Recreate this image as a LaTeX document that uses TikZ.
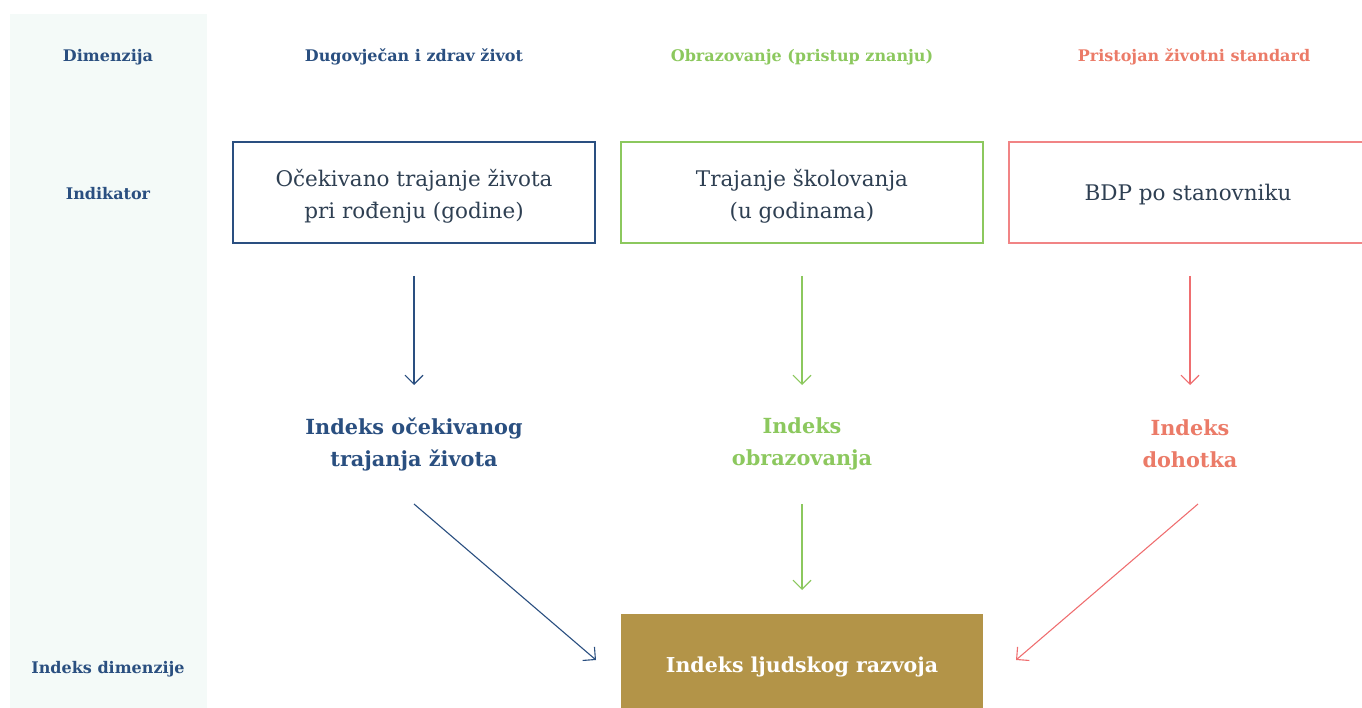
\documentclass[tikz,border=0pt]{standalone}
\usepackage{fontspec}
\setmainfont{DejaVu Serif}
\usetikzlibrary{arrows.meta}
\definecolor{navy}{HTML}{2A4F80}
\definecolor{grn}{HTML}{8CC85E}
\definecolor{salm}{HTML}{EB7B68}
\definecolor{redl}{HTML}{EF6E70}
\definecolor{gold}{HTML}{B39448}
\definecolor{bgc}{HTML}{F4FAF8}
\definecolor{txt}{HTML}{2E3F52}
\tikzset{
  lbl/.style={font=\fontsize{16}{18}\selectfont\bfseries, text=navy},
  hdr/.style={font=\fontsize{16}{18}\selectfont\bfseries},
  indbox/.style={draw, line width=1.3pt, minimum width=362pt, minimum height=101pt, inner sep=0pt},
  boxtxt/.style={text=txt, align=center, font=\fontsize{21.5}{32}\selectfont},
  idx/.style={align=center, font=\fontsize{20.8}{32}\selectfont\bfseries},
  arr/.style={line width=1.1pt, -{Straight Barb[length=9pt,width=18pt,line width=1.1pt]}}
}
\begin{document}
\begin{tikzpicture}[x=1pt,y=-1pt]
\useasboundingbox (0,0) rectangle (1362,708);
\fill[bgc] (10,14) rectangle (207,708);
\node[lbl] (ldim) at (108,57) {Dimenzija};
\node[lbl] (lind) at (108,194) {Indikator};
\node[lbl] (lidx) at (108,669) {Indeks dimenzije};
\node[hdr, text=navy] (h1) at (414,57) {Dugovječan i zdrav život};
\node[hdr, text=grn] (h2) at (802,57) {Obrazovanje (pristup znanju)};
\node[hdr, text=salm] (h3) at (1194,57) {Pristojan životni standard};
\node[indbox, draw=navy] (b1) at (414,192.5) {};
\node[indbox, draw=grn] (b2) at (802,192.5) {};
\begin{scope}
\clip (0,0) rectangle (1362,708);
\node[indbox, draw=redl!85!white] (b3) at (1190,192.5) {};
\end{scope}
\node[boxtxt] (b1t) at (414,196) {Očekivano trajanje života\\pri rođenju (godine)};
\node[boxtxt] (b2t) at (802,196) {Trajanje školovanja\\(u godinama)};
\node[boxtxt] (b3t) at (1188,195) {BDP po stanovniku};
\coordinate (a1s) at (414,276); \coordinate (a1e) at (414,385);
\coordinate (a2s) at (802,276); \coordinate (a2e) at (802,385);
\coordinate (a3s) at (1190,276); \coordinate (a3e) at (1190,385);
\draw[arr, navy] (a1s) -- (a1e);
\draw[arr, grn] (a2s) -- (a2e);
\draw[arr, redl] (a3s) -- (a3e);
\node[idx, text=navy] (i1) at (414,444) {Indeks očekivanog\\trajanja života};
\node[idx, text=grn] (i2) at (802,444) {Indeks\\obrazovanja};
\node[idx, text=salm] (i3) at (1190,444) {Indeks\\dohotka};
\node[fill=gold, minimum width=362pt, minimum height=94pt, inner sep=0pt] (hdi) at (802,661) {};
\node[text=white, font=\fontsize{20.5}{24}\selectfont\bfseries] (hdit) at (802,667) {Indeks ljudskog razvoja};
\coordinate (c1s) at (414,504); \coordinate (c1e) at (596,660);
\coordinate (c2s) at (802,504); \coordinate (c2e) at (802,590);
\coordinate (c3s) at (1198,504); \coordinate (c3e) at (1016,660);
\draw[arr, navy] (c1s) -- (c1e);
\draw[arr, grn] (c2s) -- (c2e);
\draw[arr, redl] (c3s) -- (c3e);
\end{tikzpicture}
\end{document}
